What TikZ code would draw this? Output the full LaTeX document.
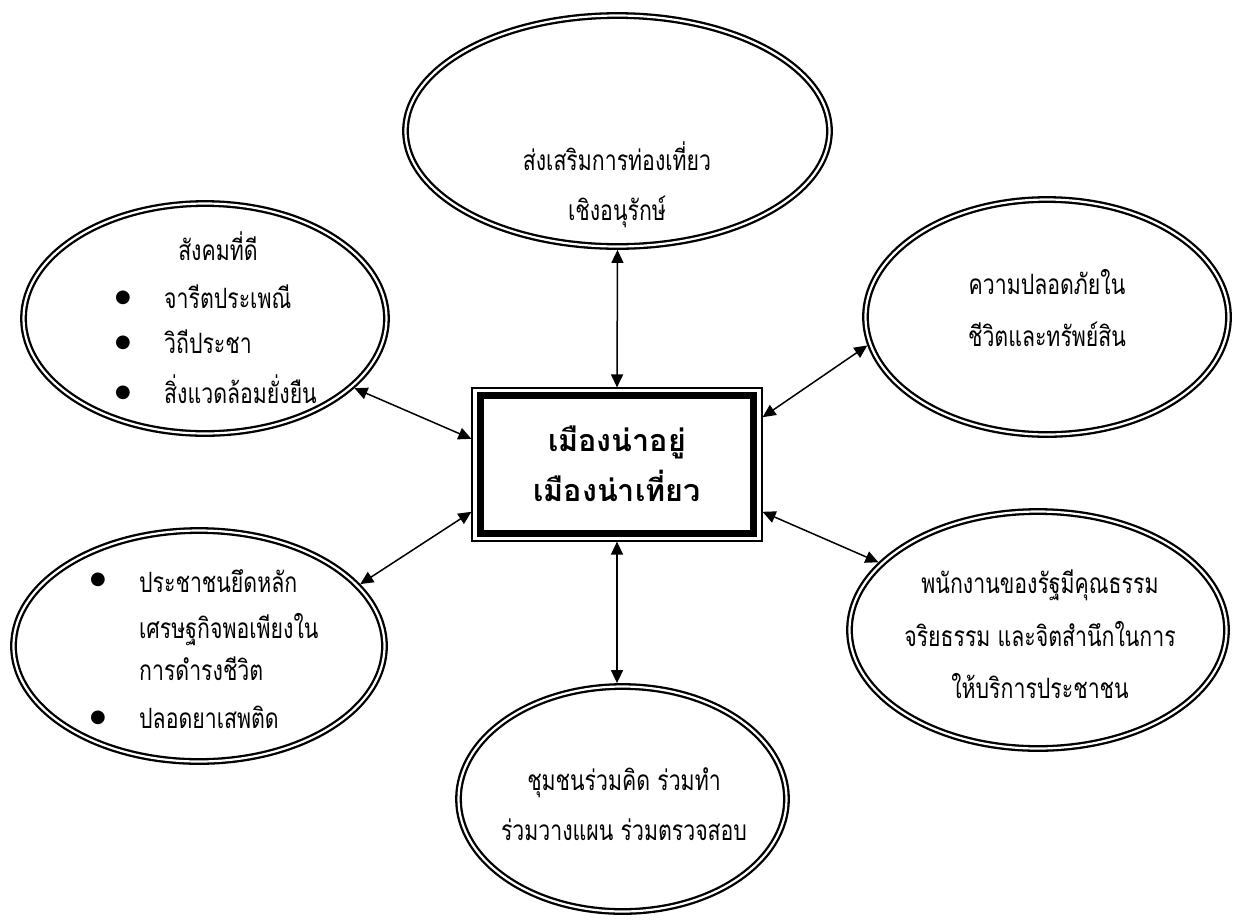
\documentclass[tikz,border=0pt]{standalone}
\usepackage{fontspec}
\setmainfont[Script=Thai]{Loma}
\newfontfamily\bodyfont[Script=Thai, FakeStretch=0.76]{Loma}
\newfontfamily\djv{DejaVu Sans}
\usetikzlibrary{shapes.geometric,arrows.meta}
\tikzset{
  bubble/.style n args={2}{draw, ellipse, double, line width=2.3pt, double distance=2.2pt,
     inner sep=0pt, outer sep=3.4pt, minimum width=#1, minimum height=#2},
  lbl/.style={inner sep=0pt, anchor=base, font=\bodyfont\fontsize{28}{32}\selectfont},
  lblw/.style={lbl, anchor=base west},
  bul/.style={inner sep=0pt, anchor=center, font=\djv\fontsize{18}{18}\selectfont},
  ctr/.style={inner sep=0pt, anchor=base, font=\bfseries\fontsize{30.5}{34}\selectfont},
  arr/.style={{Triangle[length=13pt,width=12pt]}-{Triangle[length=13pt,width=12pt]}, line width=1.5pt}
}
\begin{document}
\begin{tikzpicture}[x=1pt,y=-1pt]
\useasboundingbox (0,0) rectangle (1250,922);
\fill[white] (0,0) rectangle (1250,922);

% central box
\node[draw, line width=1.3pt, minimum width=290pt, minimum height=153pt, inner sep=0pt, outer sep=0.6pt] (c) at (617,464.5) {};
\node[draw, line width=7pt, minimum width=273pt, minimum height=138pt, inner sep=0pt] (ci) at (617,464.5) {};
\node[ctr] (c1) at (617,451) {เมืองน่าอยู่};
\node[ctr] (c2) at (617,501) {เมืองน่าเที่ยว};

% ellipses
\node[bubble={424pt}{231pt}] (top) at (617.5,131) {};
\node[bubble={363pt}{230pt}] (ul) at (205,318.5) {};
\node[bubble={363pt}{235pt}] (ur) at (1047,317) {};
\node[bubble={371pt}{231pt}] (ll) at (199,646) {};
\node[bubble={377pt}{237pt}] (lr) at (1038,630) {};
\node[bubble={328pt}{225pt}] (bot) at (622.5,799) {};

% texts
\node[lbl] (t1) at (617,170) {ส่งเสริมการท่องเที่ยว};
\node[lbl] (t2) at (617,220) {เชิงอนุรักษ์};

\node[lbl] (u0) at (218,260) {สังคมที่ดี};
\node[bul] (ub1) at (123,298) {●};
\node[lblw] (u1) at (164,308) {จารีตประเพณี};
\node[bul] (ub2) at (123,343) {●};
\node[lblw] (u2) at (164,353) {วิถีประชา};
\node[bul] (ub3) at (123,393) {●};
\node[lblw] (u3) at (164,403) {สิ่งแวดล้อมยั่งยืน};

\node[lbl] (r1) at (1047,294) {ความปลอดภัยใน};
\node[lbl] (r2) at (1047,346) {ชีวิตและทรัพย์สิน};

\node[bul] (lb1) at (98,580) {●};
\node[lblw] (l1) at (139,592) {ประชาชนยึดหลัก};
\node[lblw] (l2) at (139,638) {เศรษฐกิจพอเพียงใน};
\node[lblw] (l3) at (139,680) {การดำรงชีวิต};
\node[bul] (lb2) at (98,718) {●};
\node[lblw] (l4) at (139,728) {ปลอดยาเสพติด};

\node[lbl] (s1) at (1040,593) {พนักงานของรัฐมีคุณธรรม};
\node[lbl] (s2) at (1040,646) {จริยธรรม และจิตสำนึกในการ};
\node[lbl] (s3) at (1040,698) {ให้บริการประชาชน};

\node[lbl] (b1) at (624,790) {ชุมชนร่วมคิด ร่วมทำ};
\node[lbl] (b2) at (624,840) {ร่วมวางแผน ร่วมตรวจสอบ};

% connectors
\draw[arr] (top.south) -- (c.north);
\draw[arr] (c.south) -- (c.south |- bot.north);
\draw[arr] (ul.-25.2) -- (c.170.4);
\draw[arr] (ll.21.3) -- (c.198.5);
\draw[arr] (ur.189) -- (c.18.8);
\draw[arr] (lr.157.4) -- (c.-18.1);
\end{tikzpicture}
\end{document}
